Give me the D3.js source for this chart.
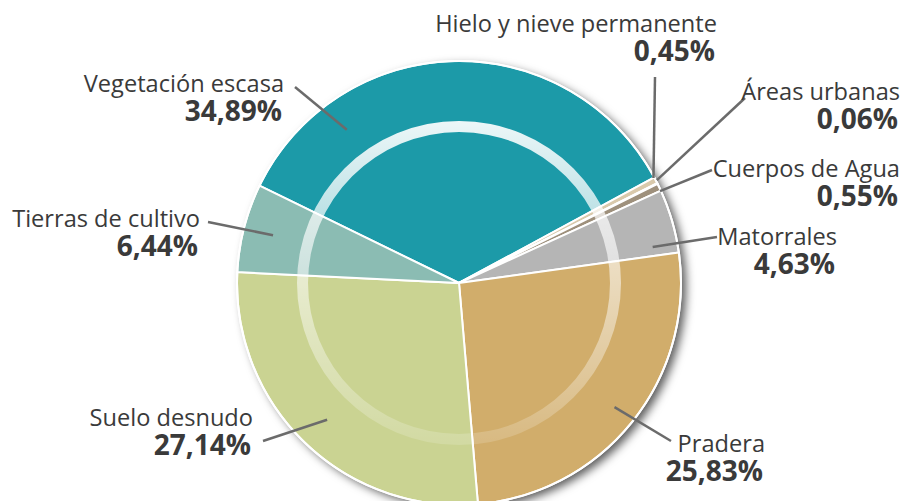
<!DOCTYPE html>
<html lang="es">
<head>
<meta charset="utf-8">
<title>Cobertura del suelo</title>
<script src="https://cdn.jsdelivr.net/npm/d3@7"></script>
<style>
  html, body { margin: 0; padding: 0; background: #fff; }
  svg { display: block; }
  .name { font: 23.6px "Open Sans", sans-serif; fill: #3a3a3a; text-anchor: end; }
  .value { font: bold 28px "Open Sans", sans-serif; fill: #3a3a3a; text-anchor: end; }
  .leader { stroke: #6b6b6b; stroke-width: 2.5; fill: none; }
</style>
</head>
<body>
<svg id="chart"></svg>
<script>
// data, clockwise from the start angle
const categories = ['Vegetación escasa', 'Hielo y nieve permanente', 'Áreas urbanas', 'Cuerpos de Agua',
  'Matorrales', 'Pradera', 'Suelo desnudo', 'Tierras de cultivo'];
const values = [34.89, 0.45, 0.06, 0.55, 4.63, 25.83, 27.14, 6.44];
const valueLabels = ['34,89%', '0,45%', '0,06%', '0,55%', '4,63%', '25,83%', '27,14%', '6,44%'];
const colors = ['#1c9aa8', '#d9c9ab', '#c9a46c', '#9e907c', '#b5b5b5', '#d1ad6b', '#cad392', '#8bbcb3'];

// label layout: text anchor (right edge, baseline) and leader line ends
const labelAt = [[284, 92], [717, 32], [900, 100], [900, 177], [837, 245], [765, 452], [253, 426], [200, 227]];
const leaderOut = [[295, 87], [655, 77], [745, 98], [712, 170], [717, 237], [671, 441], [263, 441], [208, 222]];
const leaderShift = [-35, -0.8, -0.8, 1, 5.7, 0, 0, 0];   // degrees from slice middle
const leaderR = [190, 221, 223, 221, 197, 199, 190, 192];

const width = 903, height = 501;
const cx = 459, cy = 283, radius = 222;
const startDeg = -64;

const svg = d3.select('#chart')
  .attr('width', width)
  .attr('height', height);

const defs = svg.append('defs');
const shadow = defs.append('filter')
  .attr('id', 'shadow')
  .attr('x', '-20%').attr('y', '-20%')
  .attr('width', '140%').attr('height', '140%');
shadow.append('feDropShadow')
  .attr('dx', 5).attr('dy', 4)
  .attr('stdDeviation', 5)
  .attr('flood-color', '#000')
  .attr('flood-opacity', 0.65);

const ringGrad = defs.append('linearGradient')
  .attr('id', 'ring')
  .attr('x1', 0).attr('y1', 0).attr('x2', 0).attr('y2', 1);
ringGrad.append('stop').attr('offset', '0%').attr('stop-color', '#fff').attr('stop-opacity', 0.92);
ringGrad.append('stop').attr('offset', '50%').attr('stop-color', '#fff').attr('stop-opacity', 0.55);
ringGrad.append('stop').attr('offset', '100%').attr('stop-color', '#fff').attr('stop-opacity', 0.15);

const g = svg.append('g').attr('transform', `translate(${cx},${cy})`);

// shadow disc behind the pie
g.append('circle')
  .attr('r', radius)
  .attr('fill', '#fff')
  .attr('filter', 'url(#shadow)');

const pie = d3.pie()
  .sort(null)
  .value(d => d)
  .startAngle(startDeg * Math.PI / 180)
  .endAngle(startDeg * Math.PI / 180 + 2 * Math.PI);

const arcs = pie(values);
const arc = d3.arc().innerRadius(0).outerRadius(radius);

g.append('g')
  .selectAll('path')
  .data(arcs)
  .join('path')
  .attr('d', arc)
  .attr('fill', (d, i) => colors[i])
  .attr('stroke', '#fff')
  .attr('stroke-width', 2)
  .attr('stroke-linejoin', 'round');

// outer white rim
g.append('circle')
  .attr('r', radius)
  .attr('fill', 'none')
  .attr('stroke', '#fff')
  .attr('stroke-width', 2);

// glossy inner ring
g.append('path')
  .attr('d', d3.arc().innerRadius(151).outerRadius(162).startAngle(0).endAngle(2 * Math.PI)())
  .attr('fill', 'url(#ring)');

// leader lines
const leaders = svg.append('g');
arcs.forEach((d, i) => {
  const mid = (d.startAngle + d.endAngle) / 2 + leaderShift[i] * Math.PI / 180;
  const p = d3.pointRadial(mid, leaderR[i]);
  leaders.append('line')
    .attr('class', 'leader')
    .attr('x1', leaderOut[i][0]).attr('y1', leaderOut[i][1])
    .attr('x2', cx + p[0]).attr('y2', cy + p[1]);
});

// labels
const labels = svg.append('g')
  .selectAll('g')
  .data(categories)
  .join('g')
  .attr('transform', (d, i) => `translate(${labelAt[i][0]},${labelAt[i][1]})`);

labels.append('text')
  .attr('class', 'name')
  .text(d => d);

labels.append('text')
  .attr('class', 'value')
  .attr('x', -2)
  .attr('y', 29)
  .text((d, i) => valueLabels[i]);
</script>
</body>
</html>
